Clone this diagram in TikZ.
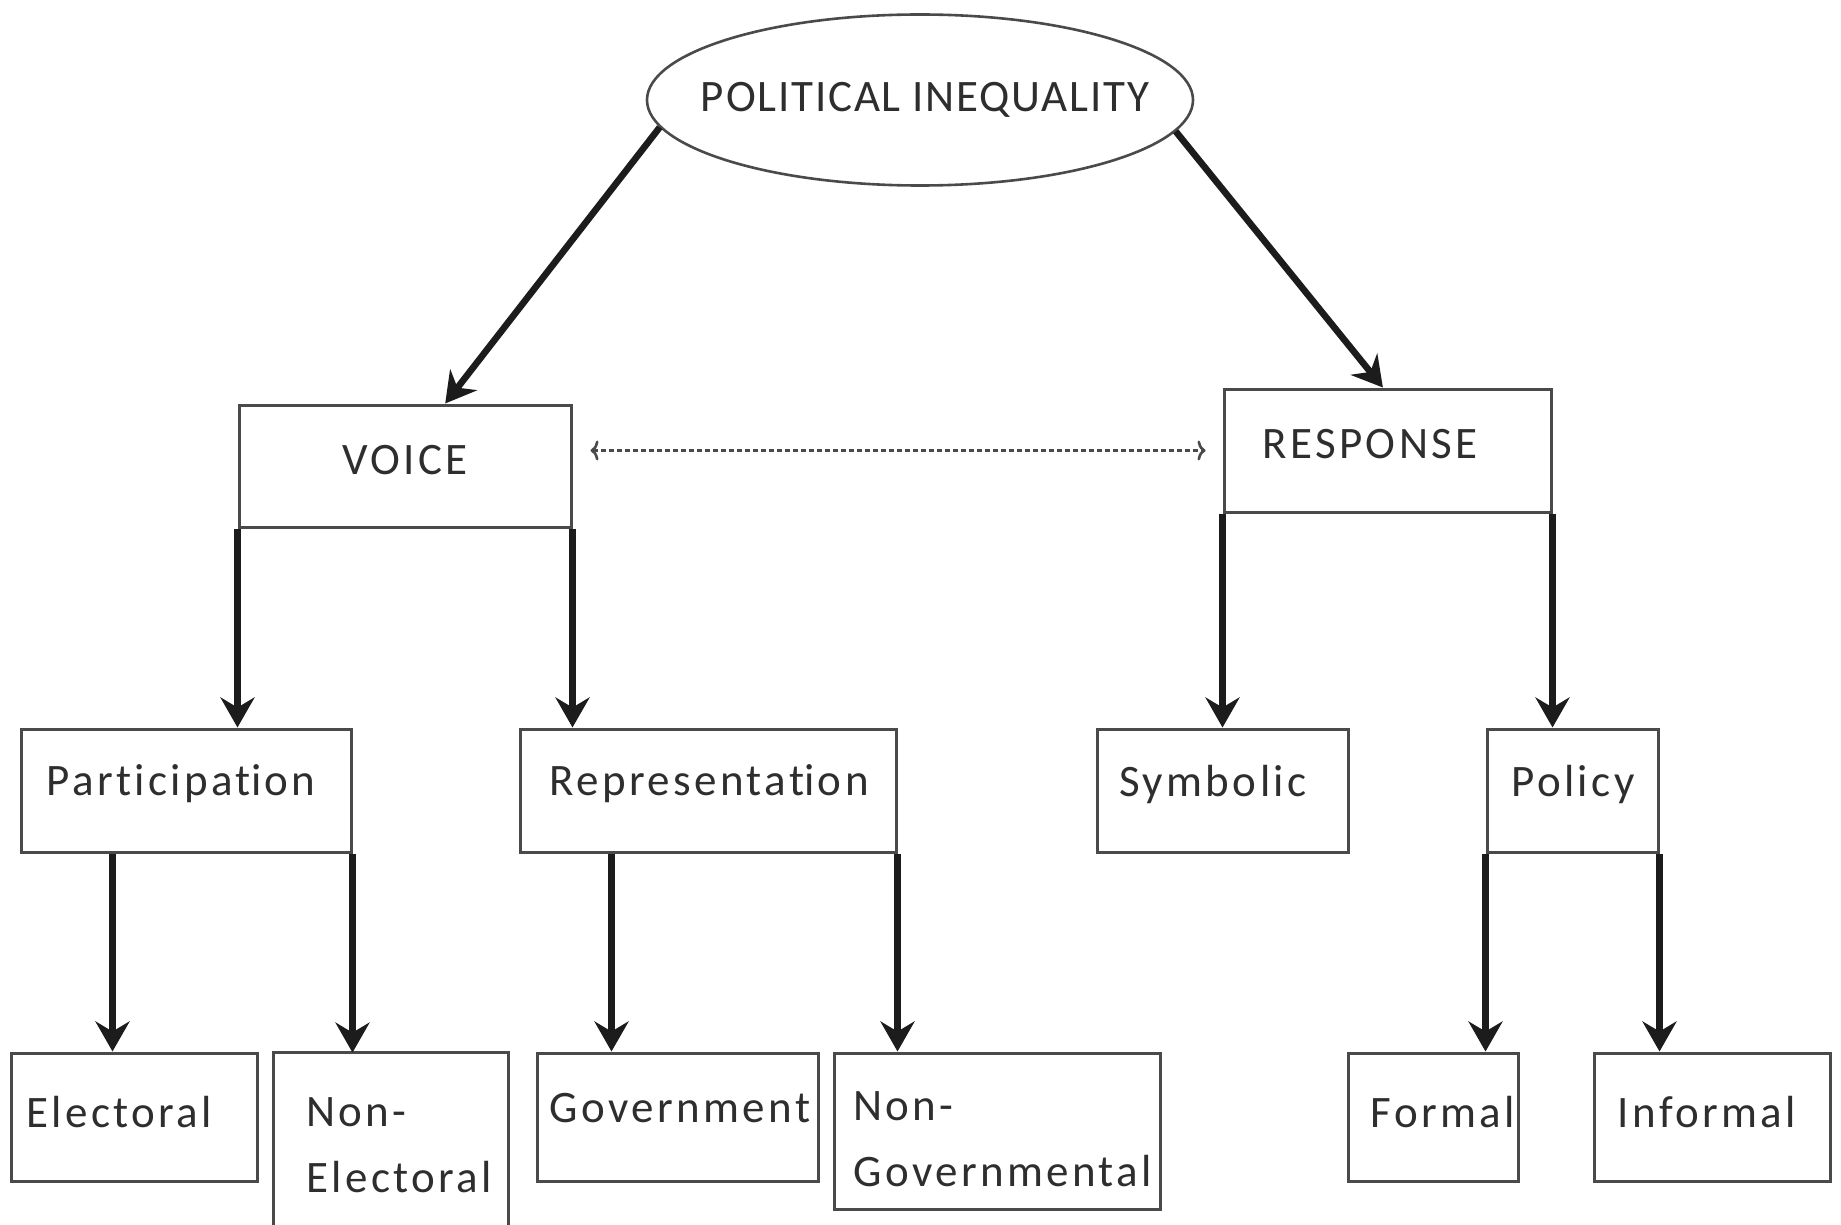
\documentclass[tikz,border=0pt]{standalone}
\usepackage{fontspec}
\setmainfont{Carlito}[LetterSpace=7.5,Ligatures=NoCommon]
\newfontfamily\capsfont{Carlito}[LetterSpace=4,Ligatures=NoCommon]
\usetikzlibrary{arrows.meta,shapes.geometric,calc}
\definecolor{boxgray}{HTML}{4A4A4A}
\definecolor{arrblack}{HTML}{1C1C1C}
\definecolor{txtgray}{HTML}{2E2E2E}
\begin{document}
\begin{tikzpicture}[x=0.5pt,y=-0.5pt,
  bx/.style 2 args={minimum width=#1*0.5pt, minimum height=#2*0.5pt},
  box/.style={draw=boxgray, line width=1.5pt, inner sep=0pt},
  ell/.style={ellipse, draw=boxgray, line width=1.3pt, inner sep=0pt},
  lbl/.style={inner sep=0pt, text=txtgray, font=\fontsize{22.5}{33}\selectfont},
  arr/.style={draw=arrblack, line width=3.3pt, -{Stealth[length=15pt,width=17pt,inset=5pt]}},
  darr/.style={draw=boxgray, line width=1.3pt, dash pattern=on 2.5pt off 1.5pt,
    {To[length=4pt,width=10pt]}-{To[length=4pt,width=10pt]}}
]
\useasboundingbox (0,0) rectangle (1841,1225);
\fill[white] (0,0) rectangle (1841,1225);

% top
\node[ell, bx={546}{171}] (pi) at (920,100) {};
\node[lbl, font=\fontsize{22.5}{33}\capsfont] (pit) at (925,100) {POLITICAL INEQUALITY};

% level 2
\node[box, bx={332}{122}] (voice) at (405,466) {};
\node[lbl] (voicet) at (405,460) {VOICE};
\node[box, bx={327}{123}] (resp) at (1387.5,450.5) {};
\node[lbl] (respt) at (1370,444) {RESPONSE};

% level 3
\node[box, bx={330}{123}] (part) at (186,790.5) {};
\node[lbl] (partt) at (181,784) {Participat\kern0pt ion};
\node[box, bx={376}{123}] (rep) at (708,790.5) {};
\node[lbl] (rept) at (709,784) {Representat\kern0pt ion};
\node[box, bx={251}{123}] (sym) at (1222.5,790.5) {};
\node[lbl] (symt) at (1213,784) {Symbolic};
\node[box, bx={171}{123}] (pol) at (1572.5,790.5) {};
\node[lbl] (polt) at (1573,784) {Policy};

% level 4
\node[box, bx={246}{128}] (elect) at (134,1117) {};
\node[lbl, anchor=west] (electt) at (26,1112) {Electoral};
\node[inner sep=0pt, bx={234}{172}] (nonelect) at (391,1139) {};
\draw[boxgray, line width=1.5pt] (nonelect.south west) -- (nonelect.north west)
  -- (nonelect.north east) -- (nonelect.south east);
\node[lbl, anchor=west, align=left] (nonelectt) at (306,1145) {Non-\\Electoral};
\node[box, bx={281}{128}] (gov) at (677.5,1117) {};
\node[lbl] (govt) at (680,1108) {Government};
\node[box, bx={326}{156}] (nongov) at (997,1131) {};
\node[lbl, anchor=west, align=left] (nongovt) at (853,1139) {Non-\\Governmental};
\node[box, bx={170}{128}] (formal) at (1433,1117) {};
\node[lbl] (formalt) at (1443,1112) {Formal};
\node[box, bx={236}{128}] (inform) at (1712,1117) {};
\node[lbl] (informt) at (1707,1112) {Informal};

% connectors
\draw[arr] (pi.186.8) -- ($(voice.north west)!0.62!(voice.north east)$);
\draw[arr] (pi.353.2) -- ($(resp.north west)!0.486!(resp.north east)$);
\draw[darr, shorten <=18pt*0.5, shorten >=17pt*0.5] (voice.east |- resp.west) -- (resp.west);

\draw[arr] (voice.south west) -- (voice.south west |- part.north);
\draw[arr] (voice.south east) -- (voice.south east |- rep.north);
\draw[arr] (resp.south west) -- (resp.south west |- sym.north);
\draw[arr] (resp.south east) -- (resp.south east |- pol.north);

\coordinate (pa) at ($(part.south west)+(93,0)$);
\draw[arr] (pa) -- (pa |- elect.north);
\draw[arr] (part.south east) -- (part.south east |- nonelect.north);
\coordinate (ra) at ($(rep.south west)+(93,0)$);
\draw[arr] (ra) -- (ra |- gov.north);
\draw[arr] (rep.south east) -- (rep.south east |- nongov.north);
\draw[arr] (pol.south west) -- (pol.south west |- formal.north);
\draw[arr] (pol.south east) -- (pol.south east |- inform.north);
\end{tikzpicture}
\end{document}
